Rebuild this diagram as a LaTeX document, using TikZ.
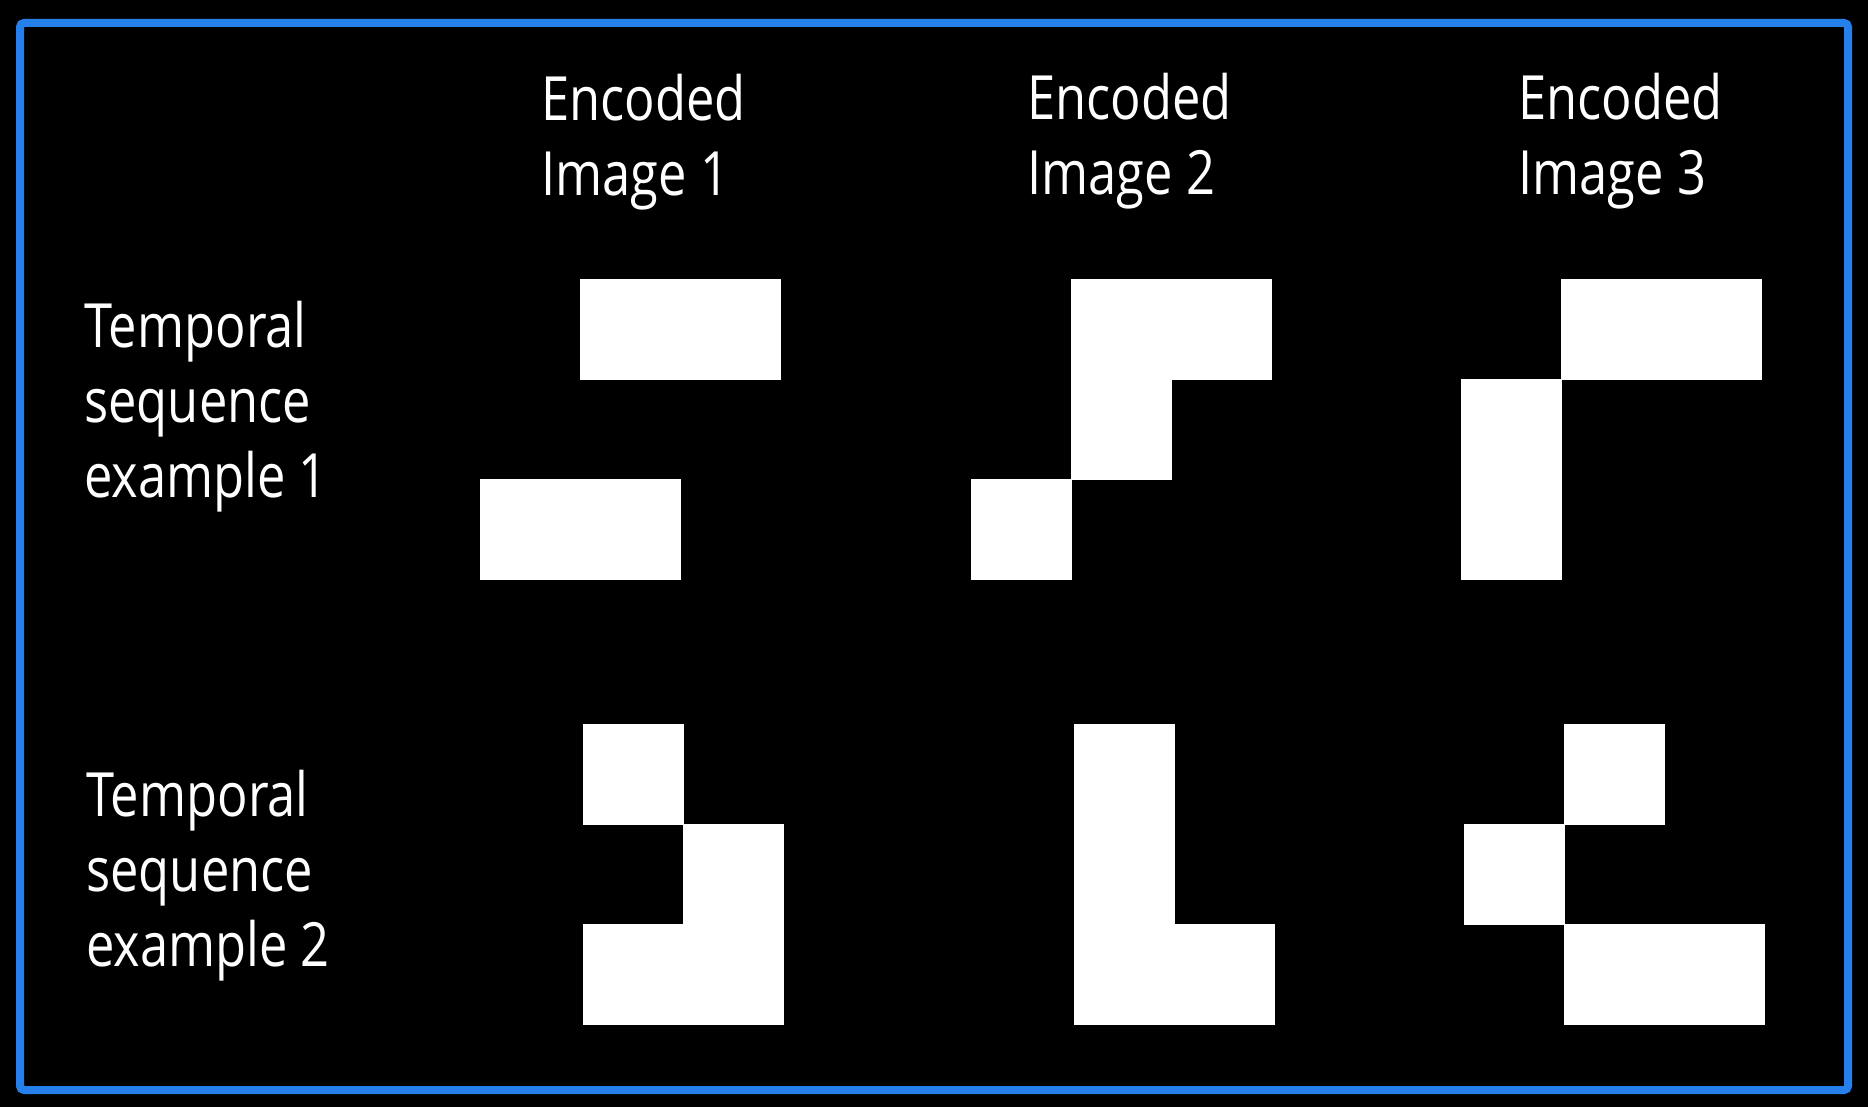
\documentclass[tikz,border=0pt]{standalone}
\usepackage{fontspec}
\usepackage{tikz}
\newfontfamily\labelfont[FakeStretch=0.83]{Open Sans}
\definecolor{framecol}{RGB}{38,128,236}

\begin{document}
\begin{tikzpicture}[x=0.5pt,y=-0.5pt,
  label node/.style={text=white,align=left,inner sep=0pt,anchor=base west,
    font={\labelfont\fontsize{30.5pt}{37.5pt}\selectfont}},
  pixel node/.style={rectangle,fill=white,draw=white,line width=0.3pt,
    inner sep=0pt,outer sep=0pt,anchor=north west,minimum width=50pt,minimum height=50pt},
  wide/.style={minimum width=100pt},tall/.style={minimum height=100pt}]

  \useasboundingbox (0,0) rectangle (1868,1107);
  \fill[black] (0,0) rectangle (1868,1107);
  \draw[framecol,line width=4pt,rounded corners=2pt] (20,23) rectangle (1848,1090);

  \node[label node] (h1) at (541,196) {Encoded\\Image 1};
  \node[label node] (h2) at (1027,195) {Encoded\\Image 2};
  \node[label node] (h3) at (1518,195) {Encoded\\Image 3};
  \node[label node] (r1) at (84,497) {Temporal\\sequence\\example 1};
  \node[label node] (r2) at (86,966) {Temporal\\sequence\\example 2};

% example 1
  \node[pixel node,wide] (a1) at (580,279) {};
  \node[pixel node,wide] (a2) at (480,479) {};
  \node[pixel node,wide] (b1) at (1071,279) {};
  \node[pixel node] (b2) at (1071,379) {};
  \node[pixel node] (b3) at (971,479) {};
  \node[pixel node,wide] (c1) at (1561,279) {};
  \node[pixel node,tall] (c2) at (1461,379) {};

% example 2
  \node[pixel node] (d1) at (583,724) {};
  \node[pixel node,tall] (d2) at (683,824) {};
  \node[pixel node] (d3) at (583,924) {};
  \node[pixel node,minimum height=150pt] (e1) at (1074,724) {};
  \node[pixel node] (e2) at (1174,924) {};
  \node[pixel node] (f1) at (1564,724) {};
  \node[pixel node] (f2) at (1464,824) {};
  \node[pixel node,wide] (f3) at (1564,924) {};
\end{tikzpicture}
\end{document}
